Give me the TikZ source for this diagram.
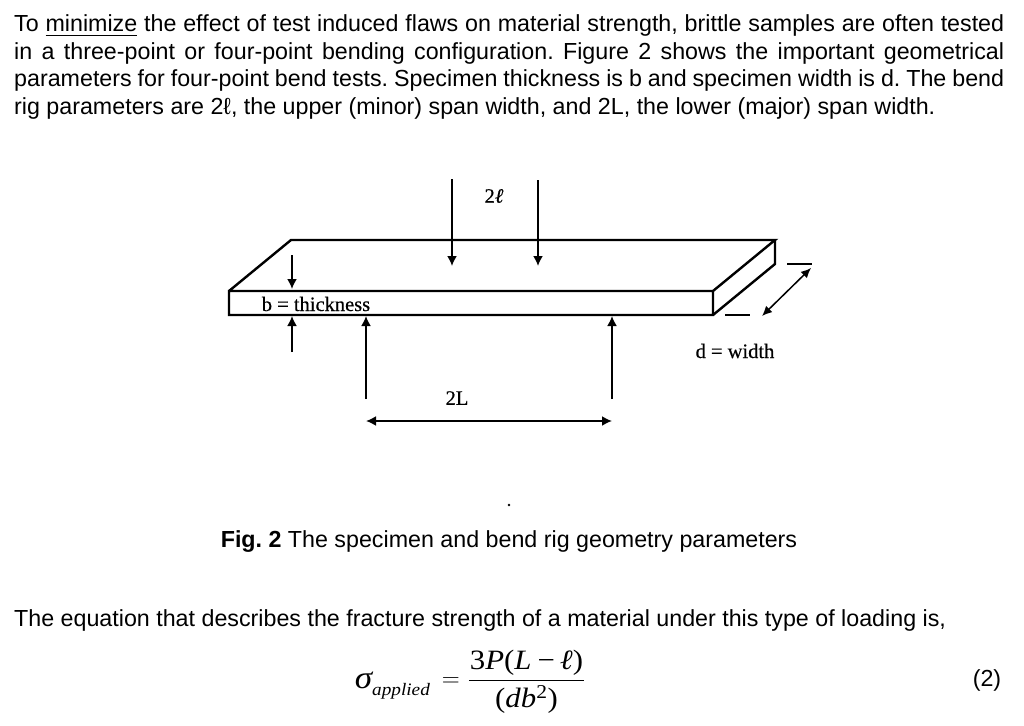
\documentclass[tikz,border=0pt]{standalone}
\usepackage{amsmath}
\usepackage{fontspec}
\setmainfont{Liberation Sans}
\newfontfamily\rmserif[FakeBold=0.35]{Liberation Serif}
\newfontfamily\eqserif[FakeStretch=1.1]{Liberation Serif}
\usetikzlibrary{arrows.meta}
\newcommand{\fitline}[1]{\makebox[990pt][s]{#1}}
\frenchspacing

\begin{document}
\begin{tikzpicture}
[x=1pt,y=-1pt]
\tikzset{
	body/.style = {anchor = west, inner sep = 0, align = left, font = \fontsize{23.25}{27.4}\selectfont},
	label/.style = {inner sep = 0, font = \fontsize{20.5}{22}\rmserif},
	slab/.style = {line width = 2.4pt, line join = miter},
	force/.style = {line width = 1.8pt, -{Latex[length=10pt,width=10pt]}},
	tick/.style = {line width = 2.4pt}
}
\useasboundingbox (0,0) rectangle (1024,725);

\node(intro) [body] at (14,67) {
	\fitline{To \underline{minimize} the effect of test induced flaws on material strength, brittle samples are often tested}\\
	\fitline{in a three-point or four-point bending configuration. Figure 2 shows the important geometrical}\\
	\fitline{parameters for four-point bend tests. Specimen thickness is b and specimen width is d. The bend}\\
	rig parameters are 2ℓ, the upper (minor) span width, and 2L, the lower (major) span width.
};

% specimen corners
\coordinate (backl) at (291,240);
\coordinate (backr) at (775,240);
\coordinate (backrb) at (775,264);
\coordinate (frontl) at (229,291);
\coordinate (frontr) at (713,291);
\coordinate (botl) at (229,315);
\coordinate (botr) at (713,315);

\draw [slab] (frontl) -- (backl) -- (backr) -- (frontr) -- (frontl) -- (botl) -- (botr) -- (frontr);
\draw [slab] (botr) -- (backrb) -- (backr);

% upper span
\coordinate (upa) at (452,179);
\coordinate (upaend) at (452,266);
\coordinate (upb) at (538,180);
\coordinate (upbend) at (538,266);
\draw [force] (upa) -- (upaend);
\draw [force] (upb) -- (upbend);
\node(upper) [label] at (494,196) {2\textit{ℓ}};

% thickness
\coordinate (thka) at (292,255);
\coordinate (thkaend) at (292,289);
\coordinate (thkb) at (292,352);
\coordinate (thkbend) at (292,316);
\draw [force] (thka) -- (thkaend);
\draw [force] (thkb) -- (thkbend);
\node(thickness) [label] at (316,304) {b = thickness};

% lower span
\coordinate (lowa) at (366,399);
\coordinate (lowaend) at (366,316);
\coordinate (lowb) at (612,399);
\coordinate (lowbend) at (612,316);
\draw [force] (lowa) -- (lowaend);
\draw [force] (lowb) -- (lowbend);
\coordinate (spanl) at (366,421);
\coordinate (spanr) at (612,421);
\draw [force, {Latex[length=10pt,width=10pt]}-{Latex[length=10pt,width=10pt]}] (spanl) -- (spanr);
\node(lower) [label] at (457,398) {2L};

% width
\coordinate (wida) at (725,315);
\coordinate (widb) at (750,315);
\coordinate (widc) at (787,264);
\coordinate (widd) at (812,264);
\coordinate (wide) at (762,316);
\coordinate (widf) at (811,268);
\draw [tick] (wida) -- (widb);
\draw [tick] (widc) -- (widd);
\draw [force, line width = 1.5pt, {Latex[length=10pt,width=9pt]}-{Latex[length=10pt,width=9pt]}] (wide) -- (widf);
\node(width) [label] at (735,351) {d = width};

\fill (509,505) circle (1.4pt);
\node(caption) [inner sep = 0, font = \fontsize{23.25}{27.4}\selectfont] at (509,542) {\textbf{Fig. 2} The specimen and bend rig geometry parameters};
\node(lead) [body] at (14,620) {The equation that describes the fracture strength of a material under this type of loading is,};

\node(eqn) [inner sep = 0, font = \fontsize{28}{32}\eqserif] at (470,682) {$\raisebox{-2pt}{\fontsize{32}{32}\eqserif\itshape σ}\raisebox{-9pt}{\fontsize{17.5}{20}\eqserif\itshape applied}\hspace{12pt}{=}\hspace{8pt}\dfrac{\mbox{\eqserif\hspace{1pt}3\textit{P}(\textit{L}\hspace{6pt}−\hspace{5pt}\textit{ℓ})\hspace{1pt}}}{\rule{0pt}{24pt}\mbox{\eqserif (\textit{db}\textsuperscript{2})}}$};
\node(eqnum) [inner sep = 0, font = \fontsize{23.25}{27.4}\selectfont] at (987,680) {(2)};

\end{tikzpicture}
\end{document}
